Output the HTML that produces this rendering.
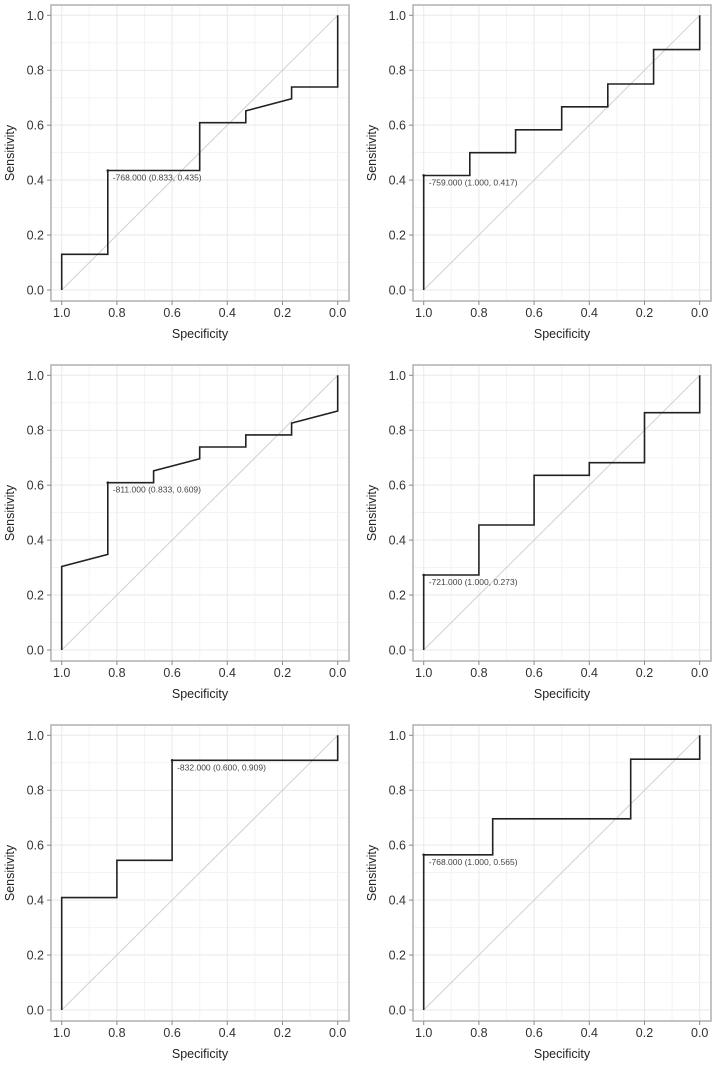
<!DOCTYPE html>
<html><head><meta charset="utf-8"><style>
body{margin:0;background:#fff;}
svg{display:block;font-family:"Liberation Sans",sans-serif;}
</style></head><body>
<svg id="c" width="714" height="1070"></svg>
<script>
const specs1=[1,1,0.833,0.833,0.5,0.5,0.333,0.333,0.167,0.167,0,0];
const sens1=[0,0.13,0.13,0.435,0.435,0.609,0.609,0.652,0.696,0.739,0.739,1];
const specs2=[1,1,0.833,0.833,0.667,0.667,0.5,0.5,0.333,0.333,0.167,0.167,0,0];
const sens2=[0,0.417,0.417,0.5,0.5,0.583,0.583,0.667,0.667,0.75,0.75,0.875,0.875,1];
const specs3=[1,1,0.833,0.833,0.667,0.667,0.5,0.5,0.333,0.333,0.167,0.167,0,0];
const sens3=[0,0.304,0.348,0.609,0.609,0.652,0.696,0.739,0.739,0.783,0.783,0.826,0.87,1];
const specs4=[1,1,0.8,0.8,0.6,0.6,0.4,0.4,0.2,0.2,0,0];
const sens4=[0,0.273,0.273,0.455,0.455,0.636,0.636,0.682,0.682,0.864,0.864,1];
const specs5=[1,1,0.8,0.8,0.6,0.6,0,0];
const sens5=[0,0.409,0.409,0.545,0.545,0.909,0.909,1];
const specs6=[1,1,0.75,0.75,0.25,0.25,0,0];
const sens6=[0,0.565,0.565,0.696,0.696,0.913,0.913,1];
const bestLabels=["-768.000 (0.833, 0.435)","-759.000 (1.000, 0.417)","-811.000 (0.833, 0.609)","-721.000 (1.000, 0.273)","-832.000 (0.600, 0.909)","-768.000 (1.000, 0.565)"];
const bestSpec=[0.833,1.0,0.833,1.0,0.6,1.0];
const bestSens=[0.435,0.417,0.609,0.273,0.909,0.565];
const tickVals=[1.0,0.8,0.6,0.4,0.2,0.0];
const tickLabels=["1.0","0.8","0.6","0.4","0.2","0.0"];
const yTickLabels=["0.0","0.2","0.4","0.6","0.8","1.0"];
const yTickVals=[0,0.2,0.4,0.6,0.8,1.0];

const allSpecs=[specs1,specs2,specs3,specs4,specs5,specs6];
const allSens=[sens1,sens2,sens3,sens4,sens5,sens6];
const NS="http://www.w3.org/2000/svg";
const svg=document.getElementById('c');
function mk(t,a,p){const e=document.createElementNS(NS,t);for(const k in a)e.setAttribute(k,a[k]);(p||svg).appendChild(e);return e;}

for(let i=0;i<6;i++){
  const ox=(i%2)*362, oy=Math.floor(i/2)*360;
  const g=mk('g',{});
  
  
  const X=v=>ox+61.7+(1-v)*276;
  const Y=v=>oy+290-v*274.7;
  // grid
  for(let k=0;k<=10;k++){
    const v=k/10;
    const gl=mk('line',{x1:X(v),x2:X(v),y1:oy+6,y2:oy+300,stroke:k%2?'#f3f3f3':'#e9e9e9','stroke-width':1},g);
    
    
    const gh=mk('line',{x1:ox+52,x2:ox+348,y1:Y(v),y2:Y(v),stroke:k%2?'#f3f3f3':'#e9e9e9','stroke-width':1},g);
    
    
  }
  const fr=mk('rect',{x:ox+51,y:oy+5,width:298,height:296,fill:'none',stroke:'#b0b0b0','stroke-width':1.5},g);
  
  
  // diagonal
  const d=mk('line',{x1:X(1),y1:Y(0),x2:X(0),y2:Y(1),stroke:'#d0d0d0','stroke-width':1},g);
  
  
  // x ticks
  tickVals.forEach((v,j)=>{
    mk('line',{x1:X(v),x2:X(v),y1:oy+301,y2:oy+305,stroke:'#888'},g);
    const t=mk('text',{x:X(v),y:oy+317,'text-anchor':'middle','font-size':12.5,fill:'#333'},g);
    t.textContent=tickLabels[j];
    
    
  });
  yTickVals.forEach((v,j)=>{
    mk('line',{x1:ox+47,x2:ox+51,y1:Y(v),y2:Y(v),stroke:'#888'},g);
    const t=mk('text',{x:ox+44,y:Y(v)+4.5,'text-anchor':'end','font-size':12.5,fill:'#333'},g);
    t.textContent=yTickLabels[j];
    
    
  });
  const xl=mk('text',{x:ox+200,y:oy+338,'text-anchor':'middle','font-size':12.5,fill:'#222'},g);
  xl.textContent='Specificity';
  
  
  const yl=mk('text',{x:ox+14,y:oy+153,'text-anchor':'middle','font-size':12.5,fill:'#222',transform:`rotate(-90 ${ox+14} ${oy+153})`},g);
  yl.textContent='Sensitivity';
  
  
  // curve
  const sp=allSpecs[i], se=allSens[i];
  const pts=sp.map((s,k)=>X(s).toFixed(1)+','+Y(se[k]).toFixed(1)).join(' ');
  const pl=mk('polyline',{points:pts,fill:'none',stroke:'#222','stroke-width':1.6},g);
  
  
  const bp=mk('circle',{cx:X(bestSpec[i]),cy:Y(bestSens[i]),r:1.3,fill:'#222'},g);
  
  
  const bt=mk('text',{x:X(bestSpec[i])+5,y:Y(bestSens[i])+10,'font-size':8.5,fill:'#444'},g);
  bt.textContent=bestLabels[i];
  
  
}
</script>
</body></html>
